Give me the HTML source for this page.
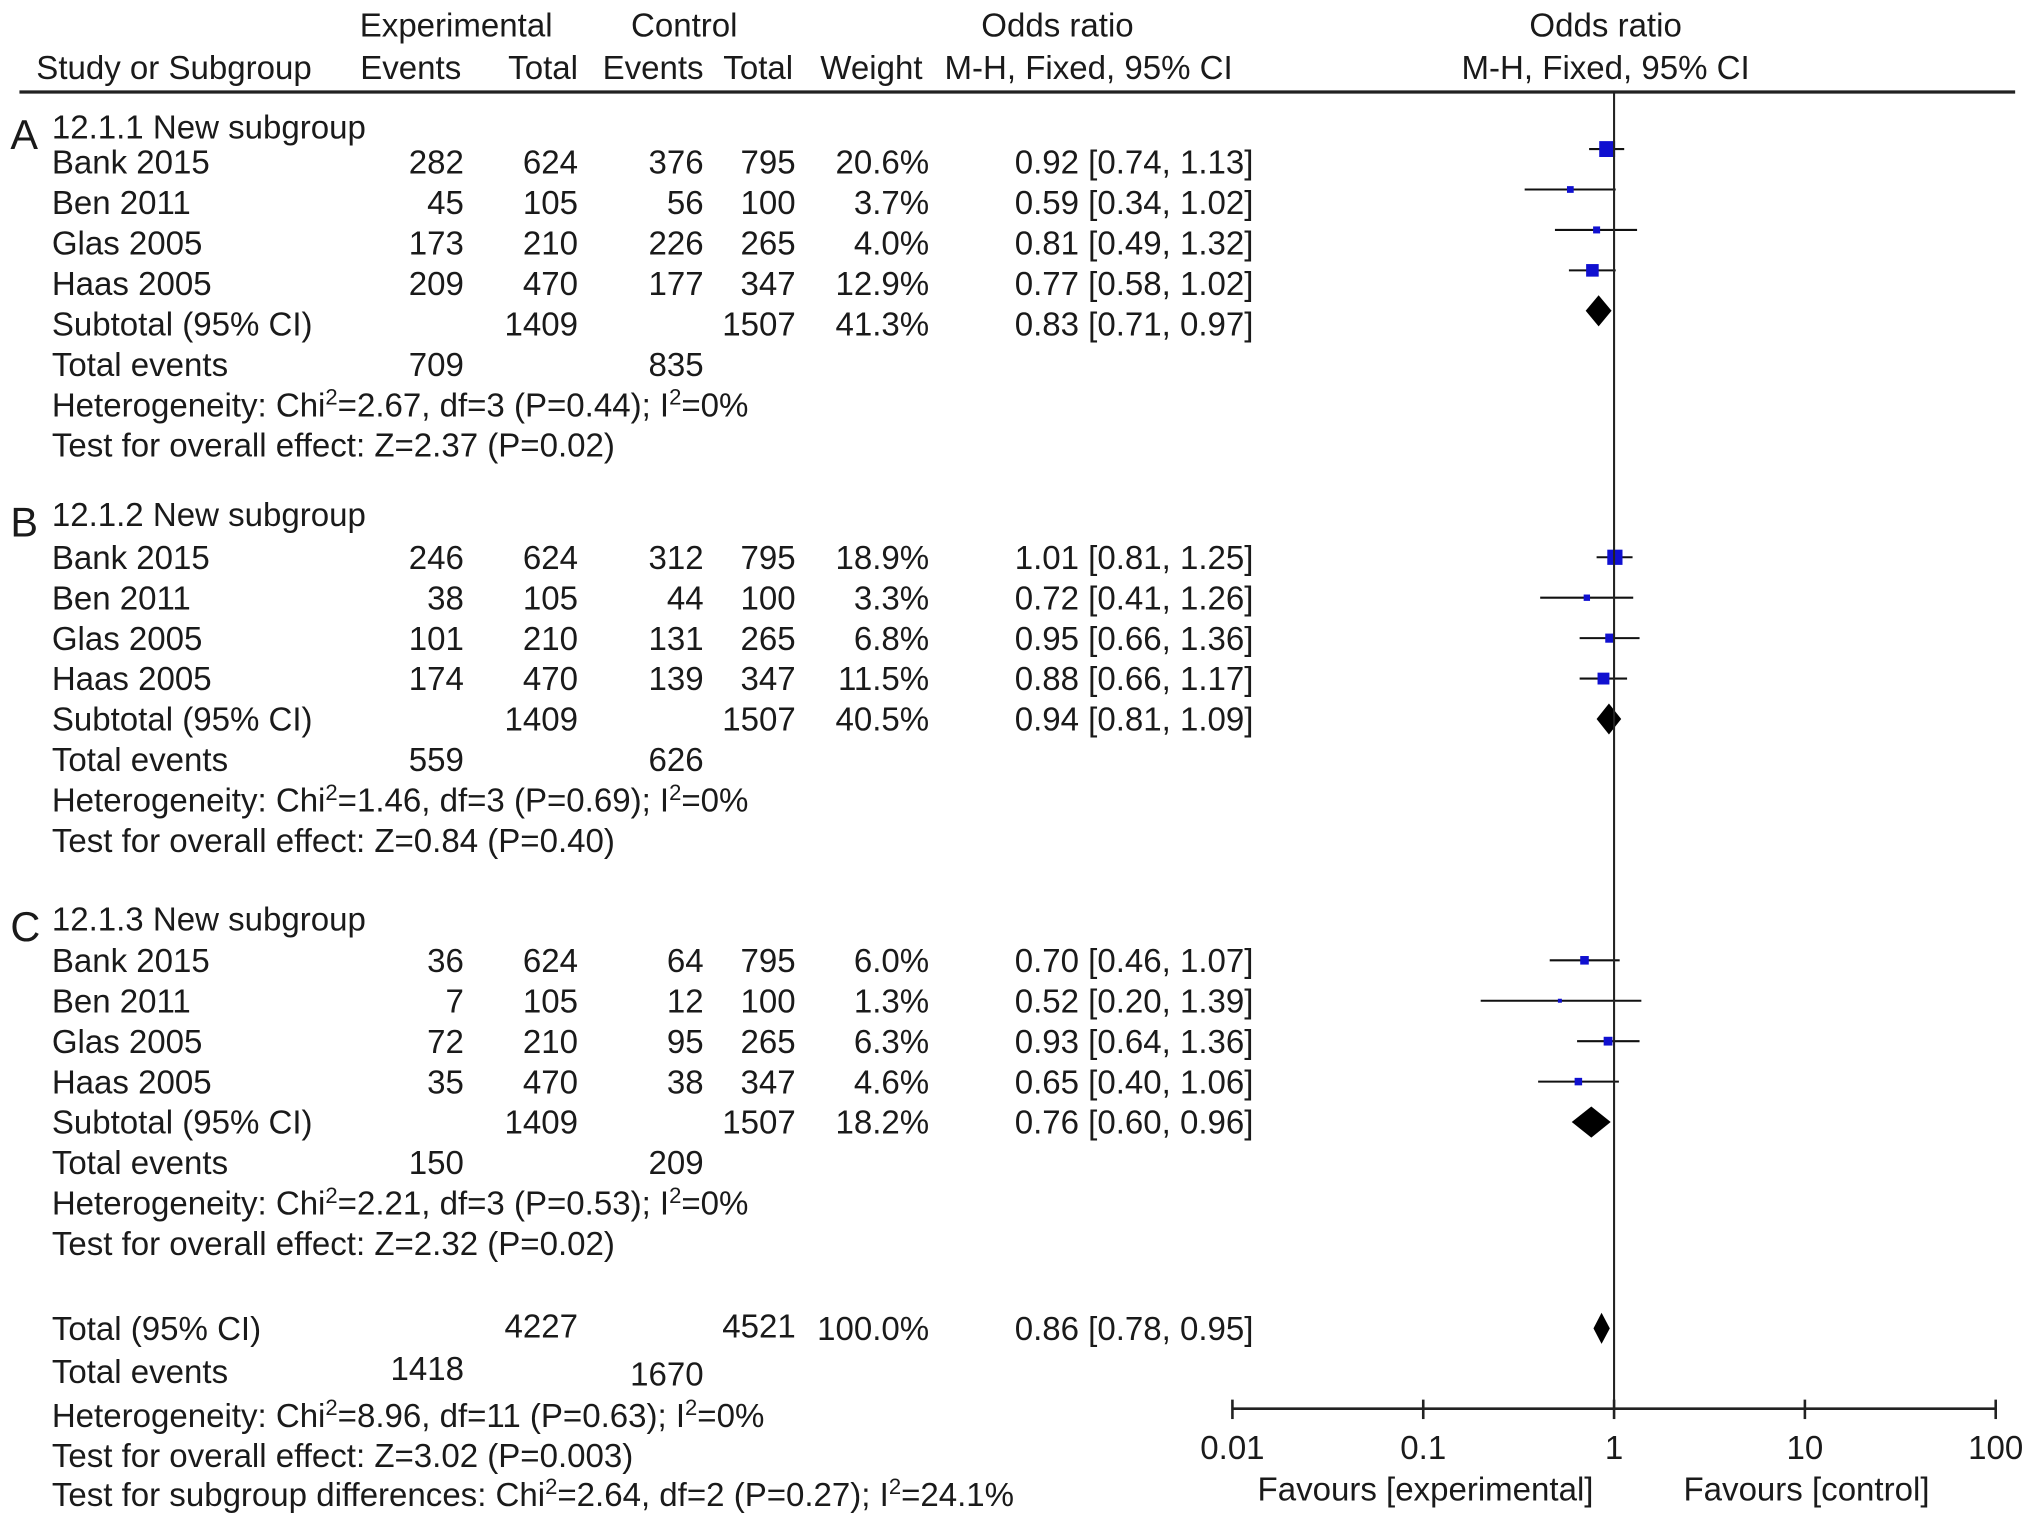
<!DOCTYPE html>
<html><head><meta charset="utf-8"><style>
html,body{margin:0;padding:0;background:#fff;}
svg{display:block;}
text{font-family:"Liberation Sans",sans-serif;font-size:25.5px;fill:#1a1a1a;}
</style></head><body>
<svg id="chart" width="2032" height="1526" viewBox="0 0 1568 1177.5" xmlns="http://www.w3.org/2000/svg">
<g>
<text x="352" y="28" text-anchor="middle">Experimental</text>
<text x="528" y="28" text-anchor="middle">Control</text>
<text x="816" y="28" text-anchor="middle">Odds ratio</text>
<text x="1239" y="28" text-anchor="middle">Odds ratio</text>
<text x="28" y="61">Study or Subgroup</text>
<text x="278" y="61">Events</text>
<text x="446" y="61" text-anchor="end">Total</text>
<text x="465" y="61">Events</text>
<text x="612" y="61" text-anchor="end">Total</text>
<text x="633" y="61">Weight</text>
<text x="840" y="61" text-anchor="middle">M-H, Fixed, 95% CI</text>
<text x="1239" y="61" text-anchor="middle">M-H, Fixed, 95% CI</text>
</g>
<line x1="15" y1="71" x2="1555" y2="71" stroke="#222" stroke-width="2.5"/>
<g id="rows"></g>
<g id="plot"></g>
</svg>
<script>
const studyNames = ["Bank 2015","Ben 2011","Glas 2005","Haas 2005"];
const expTotals = [624,105,210,470];
const ctlTotals = [795,100,265,347];
const groupLabels = ["12.1.1 New subgroup","12.1.2 New subgroup","12.1.3 New subgroup"];
const groupLetters = ["A","B","C"];
const expEvents = [[282,45,173,209],[246,38,101,174],[36,7,72,35]];
const ctlEvents = [[376,56,226,177],[312,44,131,139],[64,12,95,38]];
const weights = [[20.6,3.7,4.0,12.9],[18.9,3.3,6.8,11.5],[6.0,1.3,6.3,4.6]];
const orVals = [[0.92,0.59,0.81,0.77],[1.01,0.72,0.95,0.88],[0.70,0.52,0.93,0.65]];
const orLo = [[0.74,0.34,0.49,0.58],[0.81,0.41,0.66,0.66],[0.46,0.20,0.64,0.40]];
const orHi = [[1.13,1.02,1.32,1.02],[1.25,1.26,1.36,1.17],[1.07,1.39,1.36,1.06]];
const subOr = [0.83,0.94,0.76];
const subLo = [0.71,0.81,0.60];
const subHi = [0.97,1.09,0.96];
const subWeights = [41.3,40.5,18.2];
const subExpEvents = [709,559,150];
const subCtlEvents = [835,626,209];
const hetTexts = [["2.67","3","0.44","0%"],["1.46","3","0.69","0%"],["2.21","3","0.53","0%"]];
const zTexts = [["2.37","0.02"],["0.84","0.40"],["2.32","0.02"]];
const totalOr = 0.86, totalLo = 0.78, totalHi = 0.95;
const tickVals = [0.01,0.1,1,10,100];
const tickLabels = ["0.01","0.1","1","10","100"];

const NS="http://www.w3.org/2000/svg";
const rowsG=document.getElementById('rows');
const plotG=document.getElementById('plot');
function mk(tag,attrs,parent){const e=document.createElementNS(NS,tag);for(const k in attrs)e.setAttribute(k,attrs[k]);parent.appendChild(e);return e;}
function txt(x,y,s,anchor,parent,name){const t=mk('text',{x:x,y:y},parent);if(anchor)t.setAttribute('text-anchor',anchor);t.textContent=s;


return t;}
function supText(x,y,parts,parent,name){
 const t=mk('text',{x:x,y:y},parent);
 
 
 for(const p of parts){const s=mk('tspan',{},t);s.textContent=p[0];if(p[1]){s.setAttribute('style','font-size:17px');s.setAttribute('dy','-9');}else if(p[2]){s.setAttribute('dy','9');}}
 return t;}
const xMin=951,xMax=1540;
function xs(v){return xMin+(Math.log10(v)+2)/4*(xMax-xMin);}
function fmt(v){return v.toFixed(2);}

const groupTops=[98,397,709];
const firstOffsets=[27,33,32];
const markShift=[-10,0,0];
const rowStep=31.2, b=9;
groupTops.forEach((gy,g)=>{
 const first=firstOffsets[g];
 const L=txt(8,gy+17,groupLetters[g],null,rowsG,'panel-letter-'+groupLetters[g].toLowerCase());
 L.setAttribute('style','font-size:32px');
 txt(40,gy+b,groupLabels[g],null,rowsG,'subgroup-title');
 studyNames.forEach((n,i)=>{
  const c=gy+first+rowStep*i;
  const y=c+b;
  txt(40,y,n,null,rowsG,'study-name');
  txt(358,y,expEvents[g][i],'end',rowsG,'exp-events');
  txt(446,y,expTotals[i],'end',rowsG,'exp-total');
  txt(543,y,ctlEvents[g][i],'end',rowsG,'ctl-events');
  txt(614,y,ctlTotals[i],'end',rowsG,'ctl-total');
  txt(717,y,weights[g][i].toFixed(1)+'%','end',rowsG,'weight');
  txt(783,y,fmt(orVals[g][i])+' ['+fmt(orLo[g][i])+', '+fmt(orHi[g][i])+']',null,rowsG,'odds-ratio-ci');
  const cy=c+markShift[g];
  const ln=mk('line',{x1:xs(orLo[g][i]),x2:xs(orHi[g][i]),y1:cy,y2:cy,stroke:'#111','stroke-width':1.6},plotG);
  
  
  const sz=Math.sqrt(weights[g][i])*2.7;
  const sq=mk('rect',{x:xs(orVals[g][i])-sz/2,y:cy-sz/2,width:sz,height:sz,fill:'#1010d0'},plotG);
  
  
 });
 const sy=gy+first+rowStep*4;
 txt(40,sy+b,'Subtotal (95% CI)',null,rowsG,'subtotal-label');
 txt(446,sy+b,'1409','end',rowsG,'subtotal-exp-total');
 txt(614,sy+b,'1507','end',rowsG,'subtotal-ctl-total');
 txt(717,sy+b,subWeights[g].toFixed(1)+'%','end',rowsG,'subtotal-weight');
 txt(783,sy+b,fmt(subOr[g])+' ['+fmt(subLo[g])+', '+fmt(subHi[g])+']',null,rowsG,'subtotal-or');
 const dy=sy+markShift[g];
 const dm=mk('polygon',{points:`${xs(subLo[g])},${dy} ${xs(subOr[g])},${dy-12} ${xs(subHi[g])},${dy} ${xs(subOr[g])},${dy+12}`,fill:'#000'},plotG);
 
 
 const ty=gy+first+rowStep*5;
 txt(40,ty+b,'Total events',null,rowsG,'total-events-label');
 txt(358,ty+b,subExpEvents[g],'end',rowsG,'total-exp-events');
 txt(543,ty+b,subCtlEvents[g],'end',rowsG,'total-ctl-events');
 const h=hetTexts[g];
 supText(40,gy+first+rowStep*6+b,[['Heterogeneity: Chi'],['2',1],['='+h[0]+', df='+h[1]+' (P='+h[2]+'); I',0,1],['2',1],['='+h[3],0,1]],rowsG,'heterogeneity');
 txt(40,gy+first+rowStep*7+b,'Test for overall effect: Z='+zTexts[g][0]+' (P='+zTexts[g][1]+')',null,rowsG,'overall-effect');
});
txt(40,1025+b,'Total (95% CI)',null,rowsG,'total-label');
txt(446,1023+b,'4227','end',rowsG,'total-exp');
txt(614,1023+b,'4521','end',rowsG,'total-ctl');
txt(717,1025+b,'100.0%','end',rowsG,'total-weight');
txt(783,1025+b,fmt(totalOr)+' ['+fmt(totalLo)+', '+fmt(totalHi)+']',null,rowsG,'total-or');
txt(40,1058+b,'Total events',null,rowsG,'total-events-label');
txt(358,1056+b,'1418','end',rowsG,'total-exp-events');
txt(543,1060+b,'1670','end',rowsG,'total-ctl-events');
supText(40,1092+b,[['Heterogeneity: Chi'],['2',1],['=8.96, df=11 (P=0.63); I',0,1],['2',1],['=0%',0,1]],rowsG,'total-heterogeneity');
txt(40,1123+b,'Test for overall effect: Z=3.02 (P=0.003)',null,rowsG,'total-overall-effect');
supText(40,1153+b,[['Test for subgroup differences: Chi'],['2',1],['=2.64, df=2 (P=0.27); I',0,1],['2',1],['=24.1%',0,1]],rowsG,'subgroup-differences');
const td=mk('polygon',{points:`${xs(totalLo)},1025 ${xs(totalOr)},1013 ${xs(totalHi)},1025 ${xs(totalOr)},1037`,fill:'#000'},plotG);


const nl=mk('line',{x1:xs(1),x2:xs(1),y1:71,y2:1087,stroke:'#222','stroke-width':1.6},plotG);


const ax=mk('line',{x1:xs(0.01),x2:xs(100),y1:1087,y2:1087,stroke:'#222','stroke-width':2},plotG);


tickVals.forEach((v,i)=>{
 const t=mk('line',{x1:xs(v),x2:xs(v),y1:1080,y2:1095,stroke:'#222','stroke-width':2},plotG);
 
 
 txt(xs(v),1126,tickLabels[i],'middle',plotG,'x-tick-label');
});
txt(1100,1158,'Favours [experimental]','middle',plotG,'favours-experimental');
txt(1394,1158,'Favours [control]','middle',plotG,'favours-control');
</script>
</body></html>
